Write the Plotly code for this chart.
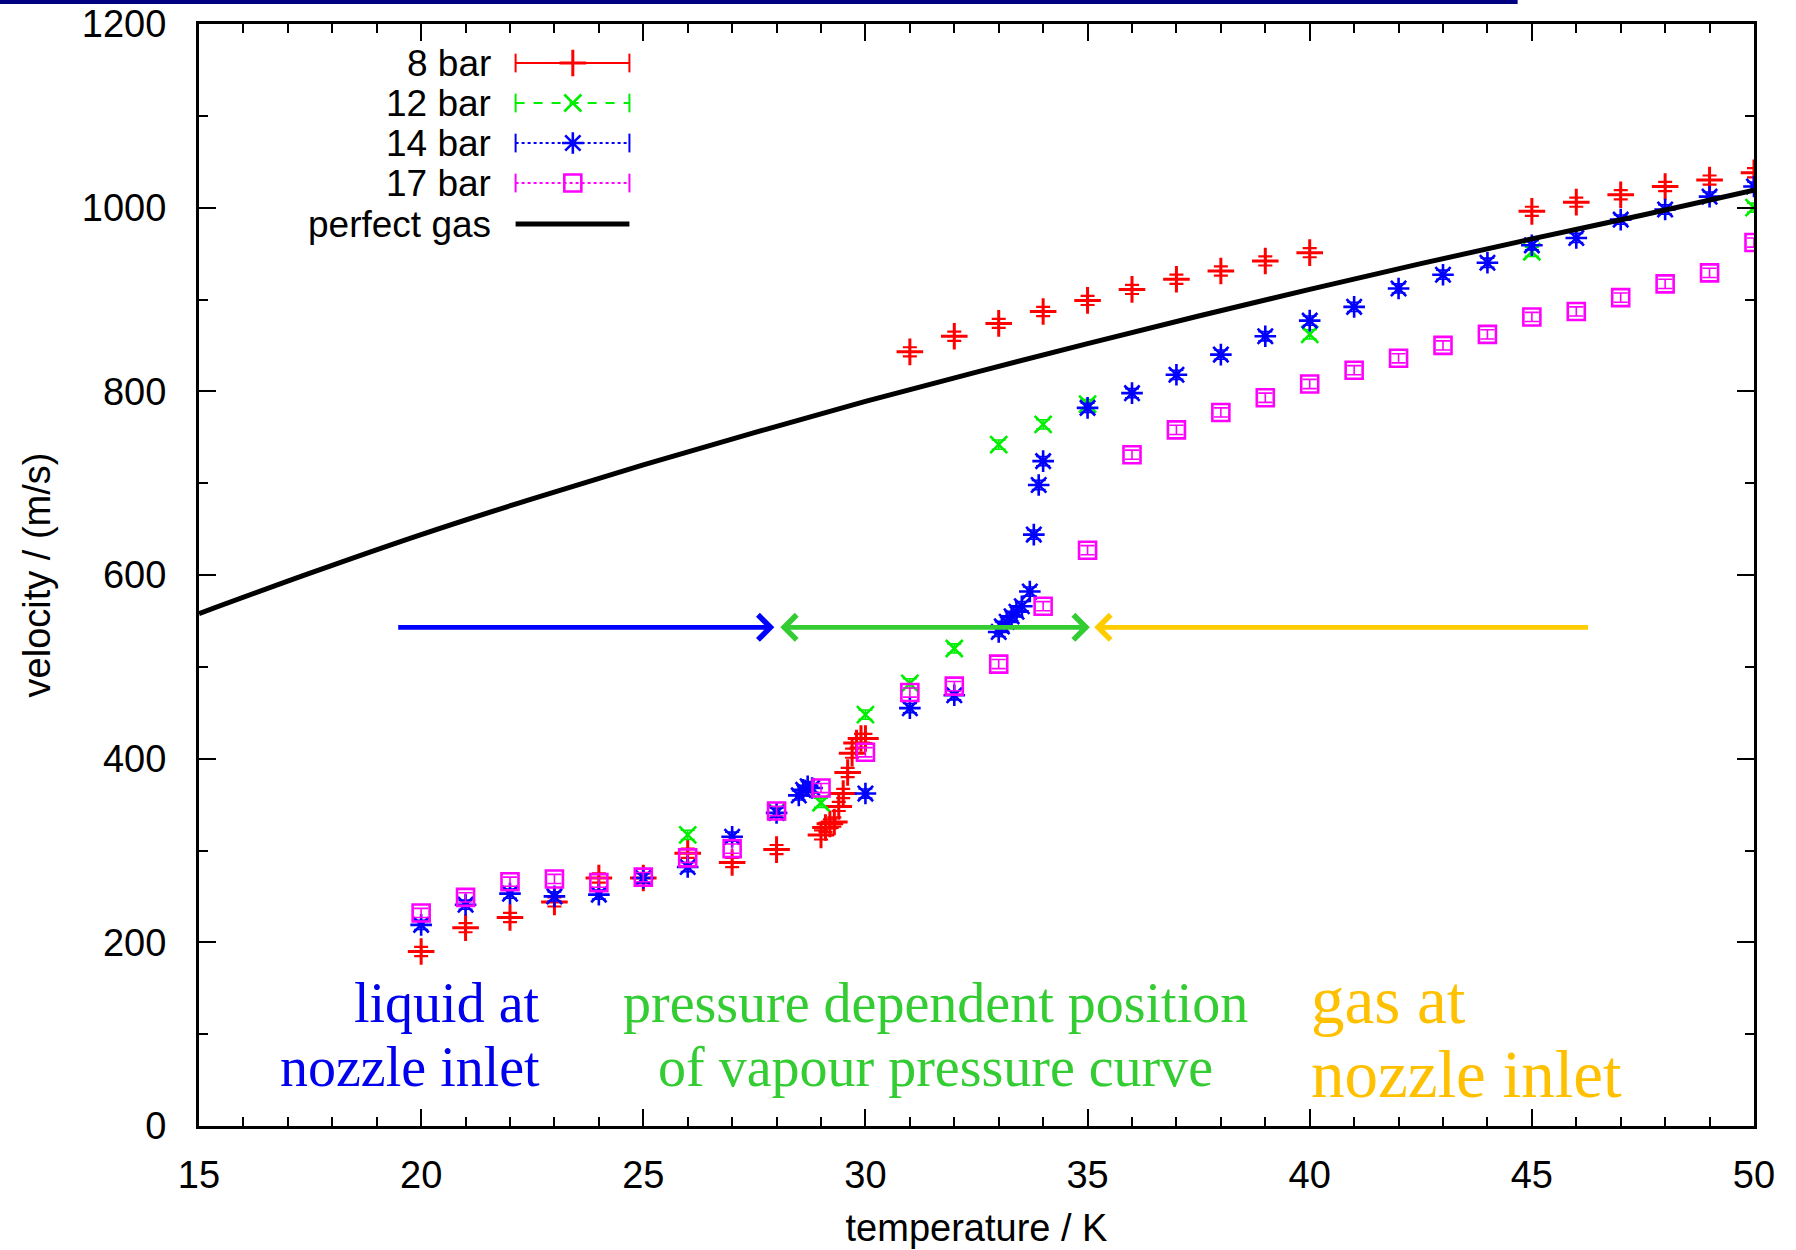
import plotly.graph_objects as go

# ---------------- data ----------------
T_8BAR = [20, 21, 22, 23, 24, 25, 26, 27, 28, 29.0, 29.1, 29.2, 29.3, 29.4, 29.5, 29.6,
          29.7, 29.8, 29.9, 30.0, 31, 32, 33, 34, 35, 36, 37, 38, 39, 40,
          45, 46, 47, 48, 49, 50]
V_8BAR = [190, 216, 227, 244, 270, 270, 297, 287, 301, 317, 325, 329, 331, 348, 362, 385,
          406, 417, 422, 422, 843, 860, 874, 887, 899, 911, 922, 931, 942, 951,
          996, 1006, 1014, 1023, 1030, 1038]

T_12BAR = [26, 28, 29, 30, 31, 32, 33, 34, 35, 40, 45, 50]
V_12BAR = [317, 342, 352, 448, 482, 520, 742, 764, 786, 862, 952, 1000]

T_14BAR = [20, 21, 22, 23, 24, 25, 26, 27, 28, 28.5, 28.6, 28.7, 28.8, 30, 31, 32,
           33.0, 33.07, 33.18, 33.29, 33.4, 33.52, 33.7, 33.79, 33.9, 34,
           35, 36, 37, 38, 39, 40, 41, 42, 43, 44, 45, 46, 47, 48, 49, 50]
V_14BAR = [219, 241, 253, 250, 252, 270, 282, 315, 341, 360, 366, 370, 368, 362, 455, 469,
           538, 544, 549, 555, 560, 566, 582, 644, 698, 724,
           782, 798, 818, 840, 860, 877, 892, 912, 927, 940, 959, 967, 987, 998, 1012, 1023]

T_17BAR = [20, 21, 22, 23, 24, 25, 26, 27, 28, 29, 30, 31, 32, 33, 34, 35,
           36, 37, 38, 39, 40, 41, 42, 43, 44, 45, 46, 47, 48, 49, 50]
V_17BAR = [232, 249, 266, 269, 265, 271, 292, 302, 343, 368, 407, 472, 479, 503, 566, 627,
           731, 758, 777, 793, 808, 823, 836, 850, 862, 881, 887, 902, 917, 929, 962]

T_GAS = [15, 17.5, 20, 22.5, 25, 27.5, 30, 32.5, 35, 37.5, 40, 42.5, 45, 47.5, 50]
V_GAS = [558, 602, 644, 683, 720, 755, 789, 821, 852, 882, 911, 939, 966, 992, 1019]

SERIES_NAMES = ["8 bar", "12 bar", "14 bar", "17 bar", "perfect gas"]
VELOCITY_ERROR = 5

# region arrows (temperature limits) and labels
ARROW_V = 543
LIQUID_RANGE = [19.45, 27.95]
VAPOUR_RANGE = [28.05, 35.05]
GAS_RANGE = [46.3, 35.15]

# ---------------- styling ----------------
RED, GREEN, BLUE, MAGENTA = "#ff0000", "#00ee00", "#0000ff", "#ff00ff"
TXT_BLUE, TXT_GREEN, TXT_YELLOW = "#0000ee", "#33cc33", "#ffc000"
AX_FONT = "Liberation Sans, Arial, sans-serif"
SERIF = "Liberation Serif, Times New Roman, serif"

fig = go.Figure()


def data_trace(x, y, color, symbol, size, lw, ew):
    return go.Scatter(
        x=x, y=y, mode="markers", showlegend=False,
        marker=dict(symbol=symbol, size=size, color=color,
                    line=dict(color=color, width=lw)),
        error_y=dict(type="constant", value=VELOCITY_ERROR, color=color,
                     thickness=ew, width=7),
    )


fig.add_trace(data_trace(T_8BAR, V_8BAR, RED, "cross-thin", 19, 3, 2.2))
fig.add_trace(data_trace(T_12BAR, V_12BAR, GREEN, "x-thin", 17, 2.6, 1.6))
fig.add_trace(data_trace(T_14BAR, V_14BAR, BLUE, "asterisk", 18, 2.6, 1.6))
fig.add_trace(data_trace(T_17BAR, V_17BAR, MAGENTA, "square-open", 17, 2.6, 1.6))
fig.add_trace(go.Scatter(x=T_GAS, y=V_GAS, mode="lines", showlegend=False,
                         line=dict(color="black", width=5, shape="spline")))

# ---------------- custom gnuplot-style legend (text left, sample right) ----------------
LEG_TEXT_X = 0.189
LEG_L, LEG_M, LEG_R = 0.2036, 0.2404, 0.2768
LEG_ROWS = [0.9646, 0.9283, 0.8920, 0.8557, 0.8185]
leg_styles = [
    (RED, "solid", "cross-thin", 19, 3),
    (GREEN, "dash", "x-thin", 17, 2.6),
    (BLUE, "dot", "asterisk", 18, 2.6),
    (MAGENTA, "dot", "square-open", 17, 2.6),
]
for i, name in enumerate(SERIES_NAMES):
    yy = LEG_ROWS[i]
    fig.add_annotation(xref="paper", yref="paper", x=LEG_TEXT_X, y=yy, text=name,
                       showarrow=False, xanchor="right", yanchor="middle",
                       font=dict(family=AX_FONT, size=37, color="black"))
    if i < 4:
        col, dash, sym, sz, lw = leg_styles[i]
        fig.add_shape(type="line", xref="paper", yref="paper", x0=LEG_L, x1=LEG_R,
                      y0=yy, y1=yy, line=dict(color=col, width=2, dash=dash))
        for xc in (LEG_L, LEG_R):
            fig.add_shape(type="line", xref="paper", yref="paper", x0=xc, x1=xc,
                          y0=yy - 0.0085, y1=yy + 0.0085, line=dict(color=col, width=2))
        fig.add_trace(go.Scatter(x=[LEG_M], y=[yy], xaxis="x2", yaxis="y2", mode="markers",
                                 showlegend=False, hoverinfo="skip",
                                 marker=dict(symbol=sym, size=sz, color=col,
                                             line=dict(color=col, width=lw))))
    else:
        fig.add_shape(type="line", xref="paper", yref="paper", x0=LEG_L, x1=LEG_R,
                      y0=yy, y1=yy, line=dict(color="black", width=5))

# ---------------- arrows ----------------
def arrow(x_head, x_tail, color, both=False):
    fig.add_annotation(x=x_head, y=ARROW_V, ax=x_tail, ay=ARROW_V, xref="x", yref="y",
                       axref="x", ayref="y", text="", showarrow=True,
                       arrowhead=4, startarrowhead=4, arrowsize=1.05, startarrowsize=1.05,
                       arrowwidth=4.6, arrowcolor=color,
                       arrowside="end+start" if both else "end")


arrow(LIQUID_RANGE[1], LIQUID_RANGE[0], "#0000ff")
arrow(VAPOUR_RANGE[1], VAPOUR_RANGE[0], "#33cc33", both=True)
arrow(GAS_RANGE[1], GAS_RANGE[0], "#ffcc00")

# ---------------- region labels ----------------
labels = [
    ("liquid at", 22.72, 134, "right", TXT_BLUE, 56),
    ("nozzle inlet", 22.72, 64, "right", TXT_BLUE, 56),
    ("pressure dependent position", 31.57, 134, "center", TXT_GREEN, 56),
    ("of vapour pressure curve", 31.57, 64, "center", TXT_GREEN, 56),
    ("gas at", 39.98, 137, "left", TXT_YELLOW, 67),
    ("nozzle inlet", 39.98, 57, "left", TXT_YELLOW, 67),
]
for txt, xx, yy, anc, col, fs in labels:
    fig.add_annotation(x=xx, y=yy, xref="x", yref="y", text=txt, showarrow=False,
                       xanchor=anc, yanchor="middle",
                       font=dict(family=SERIF, size=fs, color=col))

# top navy bar
fig.add_shape(type="rect", xref="paper", yref="paper", x0=-0.128, x1=0.848,
              y0=1.0181, y1=1.0225, fillcolor="#000080", line=dict(width=0), layer="above")

axis_common = dict(
    showgrid=False, zeroline=False, showline=True, linecolor="black", linewidth=3,
    mirror="allticks", ticks="inside", tickcolor="black", tickwidth=2, ticklen=17,
    tickfont=dict(family=AX_FONT, size=38, color="black"),
)
fig.update_layout(
    width=1796, height=1250,
    margin=dict(l=199, r=42, t=24, b=124, autoexpand=False),
    paper_bgcolor="white", plot_bgcolor="white",
    xaxis=dict(range=[15, 50], tick0=15, dtick=5,
               minor=dict(dtick=1, ticks="inside", ticklen=9, tickwidth=2, tickcolor="black"),
               title=dict(text="temperature / K", standoff=20,
                          font=dict(family=AX_FONT, size=38, color="black")),
               ticklabelstandoff=13, automargin=False, **axis_common),
    yaxis=dict(range=[0, 1200], tick0=0, dtick=200,
               minor=dict(dtick=100, ticks="inside", ticklen=9, tickwidth=2, tickcolor="black"),
               title=dict(text="velocity / (m/s)", standoff=20,
                          font=dict(family=AX_FONT, size=38, color="black")),
               ticklabelstandoff=22, automargin=False, **axis_common),
    xaxis2=dict(overlaying="x", range=[0, 1], visible=False, anchor="y2"),
    yaxis2=dict(overlaying="y", range=[0, 1], visible=False, anchor="x2"),
)

fig.write_html("out.html")
